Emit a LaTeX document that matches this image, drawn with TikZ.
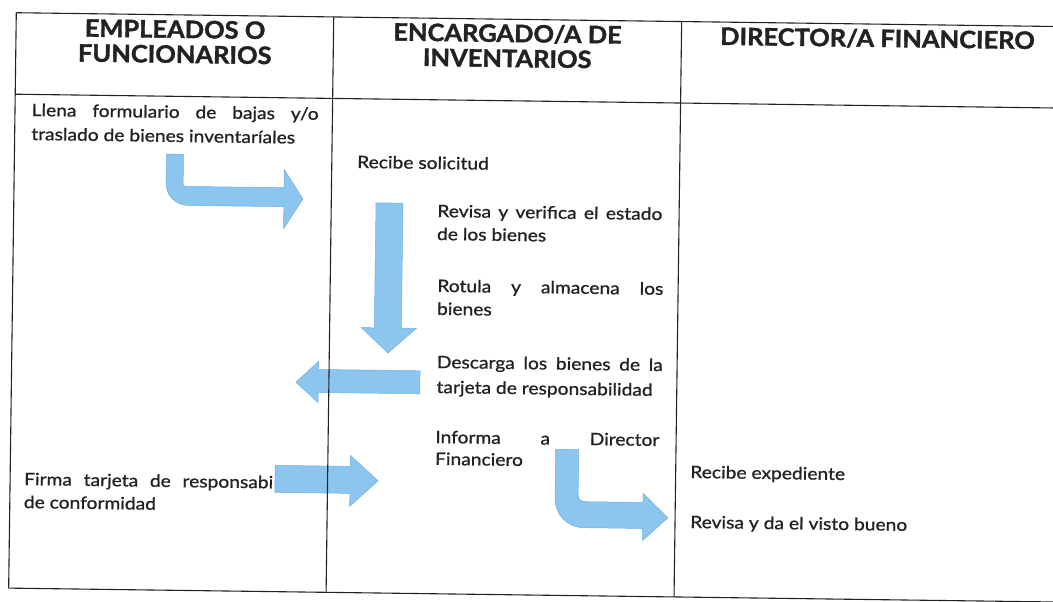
\documentclass[tikz,border=0pt]{standalone}
\usepackage{fontspec}
\setmainfont{Lato}[FakeStretch=1.13, FakeBold=1]
\newfontfamily\headfont{Lato}[FakeStretch=1.06, BoldFeatures={FakeBold=1.5}]
\definecolor{arrowblue}{HTML}{8CC6EE}
\definecolor{arrowedge}{HTML}{6CB0E2}
\definecolor{ink}{HTML}{222222}
\begin{document}
\begin{tikzpicture}[x=1pt,y=-1pt,
  rule/.style={draw=ink, line width=1.1pt},
  blockarrow/.style={fill=arrowblue, draw=arrowedge, line width=0.5pt},
  headtxt/.style={inner sep=0pt, anchor=base, font=\headfont\fontsize{24}{28}\selectfont\bfseries, text=ink},
  txt/.style={inner sep=0pt, anchor=base west, font=\fontsize{17}{22}\selectfont, text=ink}]
\useasboundingbox (0,0) rectangle (1053,602);
\clip (0,0) rectangle (1053,602);
\begin{scope}[rotate around={-0.76:(526,301)}, transform shape]
% header texts
\node[headtxt] (h1a) at (171.5,42.5) {EMPLEADOS O};
\node[headtxt] (h1b) at (171.5,67.5) {FUNCIONARIOS};
\node[headtxt] (h2a) at (504,42.3) {ENCARGADO/A DE};
\node[headtxt] (h2b) at (504,67.3) {INVENTARIOS};
\node[headtxt] (h3) at (874,42.3) {DIRECTOR/A FINANCIERO};
% body texts
\node[txt] (t1a) at (29,122.6) {\makebox[287pt][s]{Llena formulario de bajas y/o}};
\node[txt] (t1b) at (29,146.6) {traslado de bienes inventaríales};
\node[txt] (t2) at (355.2,170.2) {Recibe solicitud};
\node[txt] (t3a) at (436,218.2) {\makebox[225pt][s]{Revisa y verifica el estado}};
\node[txt] (t3b) at (436,241.2) {de los bienes};
\node[txt] (t4a) at (437,293) {\makebox[226pt][s]{Rotula y almacena los}};
\node[txt] (t4b) at (437,316) {bienes};
\node[txt] (t5a) at (437.5,369.2) {\makebox[226pt][s]{Descarga los bienes de la}};
\node[txt] (t5b) at (437.5,394.2) {tarjeta de responsabilidad};
\node[txt] (t6a) at (437,444.2) {\makebox[224pt][s]{Informa a Director}};
\node[txt] (t6b) at (437,466) {Financiero};
\node[txt] (t7) at (692.4,475.8) {Recibe expediente};
\node[txt] (t8) at (693,525.8) {Revisa y da el visto bueno};
\node[txt] (t9a) at (26.4,491.7) {\makebox[249pt][s]{Firma tarjeta de responsabi}};
\node[txt] (t9b) at (26.4,514.7) {de conformidad};
% block arrows
\path[blockarrow] (164.6,158.9) -- (181.6,158.9) -- (181.6,187.9)
  .. controls (181.6,189.9) and (182.6,190.9) .. (184.6,190.9)
  -- (282.6,190.9) -- (282.6,172.9) -- (301.6,201.9) -- (282.6,231.9)
  -- (282.6,209.9) -- (186.6,209.9)
  .. controls (174,209.9) and (164.6,200) .. (164.6,188) -- cycle;
\path[blockarrow] (374.7,204.8) -- (401.7,204.8) -- (401.7,329.8) -- (416.7,329.8)
  -- (388.7,354.8) -- (361.7,329.8) -- (374.7,329.8) -- cycle;
\path[blockarrow] (421,372.2) -- (319.4,372.2) -- (319.4,364.2) -- (297,385.2)
  -- (319.4,405.2) -- (319.4,395.2) -- (421,395.2) -- cycle;
\path[blockarrow] (277.4,468.7) -- (352.4,468.7) -- (352.4,457.7) -- (380.4,482.7)
  -- (352.4,508.7) -- (352.4,495.7) -- (277.4,495.7) -- cycle;
\path[blockarrow] (557.7,448.9) -- (580.7,448.9) -- (580.7,493)
  .. controls (580.7,498) and (583,500.9) .. (588,500.9)
  -- (645.7,500.9) -- (645.7,491.9) -- (670.7,515.9) -- (645.7,538.9)
  -- (645.7,526.9) -- (587,526.9)
  .. controls (570,526.9) and (557.7,514) .. (557.7,498) -- cycle;
% table rules
\coordinate (tl) at (12.5,19.5);
\coordinate (tr) at (1090,19.5);
\coordinate (hl) at (12.5,101);
\coordinate (hr) at (1090,101);
\coordinate (bl) at (12.5,595);
\coordinate (br) at (1090,595);
\coordinate (c1t) at (330,19.5);
\coordinate (c1b) at (330,595);
\coordinate (c2t) at (678,19.5);
\coordinate (c2b) at (678,595);
\draw[rule] (tl) -- (tr);
\draw[rule] (hl) -- (hr);
\draw[rule] (bl) -- (br);
\draw[rule] (tl) -- (bl);
\draw[rule] (c1t) -- (c1b);
\draw[rule] (c2t) -- (c2b);
\end{scope}
\end{tikzpicture}
\end{document}
